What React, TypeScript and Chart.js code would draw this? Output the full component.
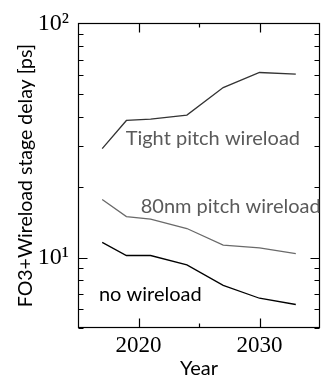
import React, { useEffect, useRef } from "react";
import { Chart, registerables } from "chart.js";

Chart.register(...registerables);

const years = [2017, 2019, 2021, 2024, 2027, 2030, 2033];
const tightPitch = [29.2, 38.5, 39.0, 40.6, 53.2, 61.7, 60.7];
const pitch80nm = [17.7, 14.95, 14.6, 13.3, 11.3, 11.0, 10.4];
const noWireload = [11.6, 10.2, 10.2, 9.3, 7.6, 6.7, 6.3];

const seriesNames = ["Tight pitch wireload", "80nm pitch wireload", "no wireload"];
const seriesColors = ["#333333", "#6a6a6a", "#000000"];
const labelColors = ["#5a5a5a", "#5a5a5a", "#000000"];
// label anchors (left, baseline) in data coordinates
const labelYears = [2018.94, 2020.18, 2016.73];
const labelValues = [30.2, 15.55, 6.49];

const xMajorTicks = [2020, 2030];
const xMinorTicks = [2025];
const yMajorTicks = [10, 100];
const yMinorTicks = [5, 6, 7, 8, 9, 20, 30, 40, 50, 60, 70, 80, 90];

const xTitle = "Year";
const yTitle = "FO3+Wireload stage delay [ps]";

const SANS = "Lato, 'Open Sans', sans-serif";
const SERIF = "'Liberation Serif', 'DejaVu Serif', serif";

const sup: Record<string, string> = { "0": "⁰", "1": "¹", "2": "²", "3": "³", "4": "⁴", "5": "⁵", "6": "⁶", "7": "⁷", "8": "⁸", "9": "⁹", "-": "⁻" };
const toSup = (n: number) => String(n).split("").map((c) => sup[c] || c).join("");

const framePlugin = {
  id: "frameTicks",
  afterDatasetsDraw(chart: any) {
    const { ctx, chartArea } = chart;
    const xs = chart.scales.x;
    const ys = chart.scales.y;
    const L = Math.round(chartArea.left) + 0.5;
    const R = Math.round(chartArea.right) - 0.5;
    const T = Math.round(chartArea.top) + 0.5;
    const B = Math.round(chartArea.bottom) - 0.5;
    ctx.save();
    ctx.strokeStyle = "#000";
    ctx.lineWidth = 1.2;
    ctx.beginPath();
    const major = 9;
    const minor = 5;
    const drawY = (v: number, len: number) => {
      const y = Math.round(ys.getPixelForValue(v)) + 0.5;
      ctx.moveTo(L, y);
      ctx.lineTo(L + len, y);
      ctx.moveTo(R, y);
      ctx.lineTo(R - len, y);
    };
    const drawX = (v: number, len: number) => {
      const x = Math.round(xs.getPixelForValue(v)) + 0.5;
      ctx.moveTo(x, B);
      ctx.lineTo(x, B - len);
      ctx.moveTo(x, T);
      ctx.lineTo(x, T + len);
    };
    yMajorTicks.forEach((v) => drawY(v, major));
    yMinorTicks.forEach((v) => drawY(v, minor));
    xMajorTicks.forEach((v) => drawX(v, major));
    xMinorTicks.forEach((v) => drawX(v, minor - 1));
    ctx.stroke();
    ctx.strokeRect(L, T, R - L, B - T);

    // series labels
    ctx.font = `20px ${SANS}`;
    ctx.textAlign = "left";
    ctx.textBaseline = "alphabetic";
    seriesNames.forEach((name, i) => {
      ctx.fillStyle = labelColors[i];
      ctx.fillText(name, xs.getPixelForValue(labelYears[i]), ys.getPixelForValue(labelValues[i]));
    });
    ctx.restore();
  },
};

export default function App() {
  const ref = useRef<HTMLCanvasElement>(null);
  useEffect(() => {
    if (!ref.current) return;
    const mk = (data: number[], i: number) => ({
      label: seriesNames[i],
      data: years.map((y, k) => ({ x: y, y: data[k] })),
      borderColor: seriesColors[i],
      backgroundColor: seriesColors[i],
      borderWidth: 1.3,
      pointRadius: 0,
      tension: 0,
      fill: false,
    });
    const chart = new Chart(ref.current, {
      type: "line",
      data: {
        datasets: [mk(tightPitch, 0), mk(pitch80nm, 1), mk(noWireload, 2)],
      },
      options: {
        animation: false,
        responsive: false,
        layout: { padding: { top: 23, right: 2, left: 0, bottom: 0 } },
        plugins: { legend: { display: false }, tooltip: { enabled: false } },
        scales: {
          x: {
            type: "linear",
            min: 2015,
            max: 2035,
            grid: { display: false, drawTicks: false },
            border: { display: false },
            afterBuildTicks: (s: any) => {
              s.ticks = xMajorTicks.map((v) => ({ value: v }));
            },
            afterFit: (s: any) => {
              s.height = 50;
            },
            ticks: {
              autoSkip: false,
              maxRotation: 0,
              padding: 4,
              color: "#000",
              font: { family: SERIF, size: 23 },
              callback: (v: any) => String(v),
            },
            title: {
              display: true,
              text: xTitle,
              color: "#000",
              font: { family: SANS, size: 20, lineHeight: 1 },
              padding: { top: 0, bottom: -1 },
            },
          },
          y: {
            type: "logarithmic",
            min: 5,
            max: 100,
            grid: { display: false, drawTicks: false },
            border: { display: false },
            afterBuildTicks: (s: any) => {
              s.ticks = yMajorTicks.map((v) => ({ value: v }));
            },
            afterFit: (s: any) => {
              s.width = 78;
            },
            ticks: {
              autoSkip: false,
              padding: 9,
              color: "#000",
              font: { family: SERIF, size: 24 },
              callback: (v: any) => "10" + toSup(Math.round(Math.log10(Number(v)))),
            },
            title: {
              display: true,
              text: yTitle,
              color: "#000",
              font: { family: SANS, size: 19.5, lineHeight: 1.2 },
              padding: { top: 14, bottom: 0 },
            },
          },
        },
      },
      plugins: [framePlugin],
    } as any);
    return () => chart.destroy();
  }, []);
  return (
    <div style={{ position: "fixed", left: 0, top: 0, width: 322, height: 378, background: "#fff" }}>
      <canvas ref={ref} width={322} height={378} style={{ display: "block" }} />
    </div>
  );
}
